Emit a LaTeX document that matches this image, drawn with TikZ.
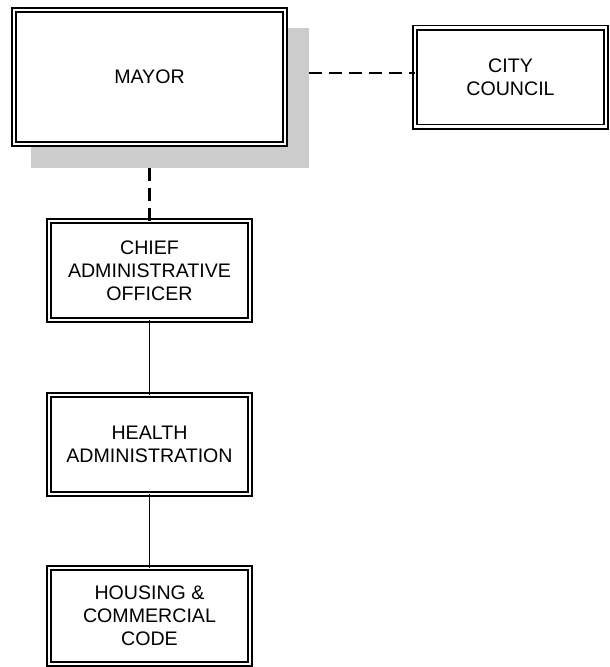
\documentclass[tikz,border=0pt]{standalone}
\usepackage{fontspec}
\setmainfont{Liberation Sans}
\definecolor{shadowgray}{RGB}{204, 204, 204}
\usetikzlibrary{positioning}
\usetikzlibrary{backgrounds}
\tikzset{
  office/.style={
    draw, double, line width=1.8pt, double distance=2.4pt,
    fill=white, align=center, inner sep=0, outer sep=0,
    minimum width=201pt, minimum height=99pt,
    font=\fontsize{19.6}{23}\selectfont
  },
  shadowbox/.style={fill=shadowgray, inner sep=0, outer sep=0},
  dashedlink/.style={line width=2.9pt, dash pattern=on 13pt off 7pt},
  solidlink/.style={line width=1.6pt}
}

\begin{document}
\begin{tikzpicture}[x=1pt, y=1pt, node distance=75pt]

    \useasboundingbox (0,0) rectangle (610,-667);

    \node [office, minimum width=271pt, minimum height=134pt] (mayor)
          at (149.5,-77) {MAYOR};
    \node [office, minimum width=191pt, right=130pt of mayor] (council)
          {CITY\\COUNCIL};
    \node [office, below=77pt of mayor] (cao)
          {CHIEF\\ADMINISTRATIVE\\OFFICER};
    \node [office, below=of cao] (health)
          {HEALTH\\ADMINISTRATION};
    \node [office, minimum height=96pt, below=74pt of health] (housing)
          {HOUSING \&\\COMMERCIAL\\CODE};

    \begin{scope}[on background layer]
      \node [shadowbox, minimum width=278pt, minimum height=140pt]
            (mayor shadow) at ([shift={(20.5pt,-21pt)}]mayor.center) {};
    \end{scope}

    \coordinate (council line) at (mayor shadow.east |- council.west);
    \draw [dashedlink] ([yshift=4pt]council line) -- ([yshift=4pt]council.west);
    \draw [dashedlink] (mayor shadow.south -| mayor.south) -- (cao.north);
    \draw [solidlink] (cao.south) -- (health.north)
                      (health.south) -- (housing.north);
\end{tikzpicture}
\end{document}
